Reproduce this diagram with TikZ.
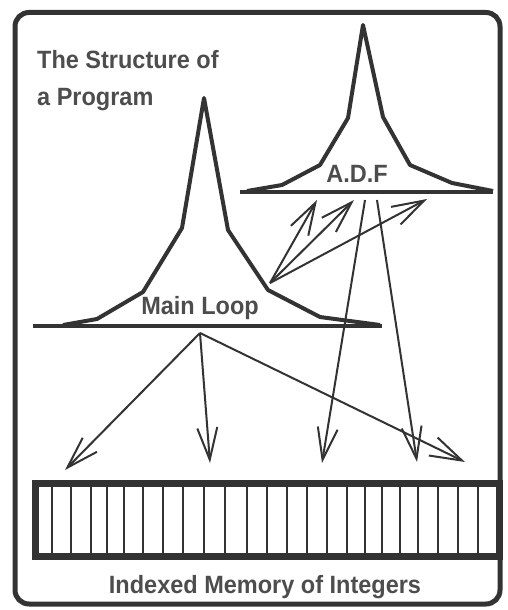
\documentclass[tikz,border=0pt]{standalone}
\usepackage{fontspec}
\setmainfont{Liberation Sans}
\usetikzlibrary{arrows.meta}
\definecolor{ink}{HTML}{333333}
\definecolor{txt}{HTML}{4d4d4d}
\begin{document}
\begin{tikzpicture}[x=1pt,y=-1pt,
  peak/.style={draw=ink,line width=4pt,line join=round},
  baseln/.style={draw=ink,line width=4.5pt},
  arr/.style={draw=ink,line width=2pt,-{Straight Barb[length=32pt,width=20pt,line width=2pt]}},
  lab/.style={text=txt,font=\fontsize{25}{30}\bfseries\selectfont,inner sep=0pt,xscale=0.94},
  frame/.style={draw=ink,line width=5pt,rounded corners=14pt},
  mem/.style={draw=ink,line width=7pt},
  cell/.style={draw=ink,line width=2pt}]
\useasboundingbox (0,0) rectangle (507,610);
% outer frame
\draw[frame] (15,12.5) rectangle (500,604);
% title
\node[lab,anchor=base west] (t1) at (37,68.5) {The Structure of};
\node[lab,anchor=base west] (t2) at (37,105) {a Program};
% main loop peak
\draw[peak] (63,325) -- (97,319) -- (143,292) -- (182,228) -- (204,98) -- (228,230) -- (268,290) -- (320,317) -- (380,325);
\draw[baseln] (33,326) -- (382,326);
\node[lab,anchor=base] (main) at (200,314) {Main Loop};
% ADF peak
\draw[peak] (247,191) -- (282,185) -- (320,165) -- (348,118) -- (363,25) -- (383,117) -- (410,165) -- (452,183) -- (493,191);
\draw[baseln] (240,192) -- (493,192);
\node[lab,anchor=base] (adf) at (357,182) {A.D.F};
% connection points
\coordinate (msrc) at (270,283);
\coordinate (a1) at (317,200);
\coordinate (a2) at (354,200);
\coordinate (a3) at (427,199);
\coordinate (d1) at (365,200);
\coordinate (d2) at (377,200);
\coordinate (e1) at (322,463);
\coordinate (e2) at (417,462);
\coordinate (mdown) at (200,333);
\coordinate (m1) at (65,470);
\coordinate (m2) at (210,463);
\coordinate (m3) at (465,462);
% arrows
\draw[arr] (msrc) -- (a1);
\draw[arr] (msrc) -- (a2);
\draw[arr] (msrc) -- (a3);
\draw[arr] (d1) -- (e1);
\draw[arr] (d2) -- (e2);
\draw[arr] (mdown) -- (m1);
\draw[arr] (mdown) -- (m2);
\draw[arr] (mdown) -- (m3);
% memory
\draw[mem] (35,483.5) rectangle (499,556.5);
\foreach \x in {52,71,91,107,124,143,163,183,204,225,247,267,287,307,327,347,365,382,400,418,438,458,478}{
  \draw[cell] (\x,486) -- (\x,553);
}
\node[lab,anchor=base] (memlab) at (265,593) {Indexed Memory of Integers};
\end{tikzpicture}
\end{document}
